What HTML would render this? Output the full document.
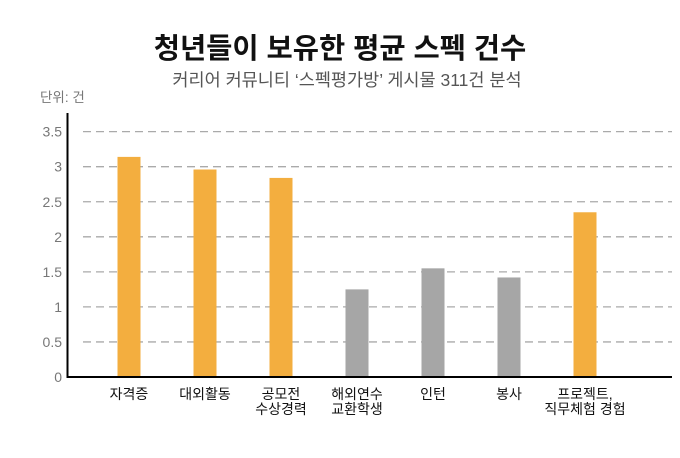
<!DOCTYPE html>
<html><head><meta charset="utf-8"><style>
body{margin:0;background:#fff;width:680px;height:453px;overflow:hidden;font-family:"Liberation Sans","Noto Sans CJK KR",sans-serif}
</style></head><body>
<svg id="chart" width="680" height="453" xmlns="http://www.w3.org/2000/svg" font-family="Liberation Sans, Noto Sans CJK KR, sans-serif">
<text x="340" y="58" text-anchor="middle" font-size="28.5" font-weight="bold" fill="#111">청년들이 보유한 평균 스펙 건수</text>
<text x="347" y="86" text-anchor="middle" font-size="17.5" fill="#555">커리어 커뮤니티 ‘스펙평가방’ 게시물 311건 분석</text>
<text x="40" y="102" font-size="13.5" fill="#777">단위: 건</text>
<g id="grid"></g><g id="bars"></g><g id="labels"></g>
<line x1="67.5" y1="113" x2="67.5" y2="378" stroke="#000" stroke-width="2"/>
<line x1="66.5" y1="377" x2="672" y2="377" stroke="#000" stroke-width="2"/>
</svg>
<script>
const categories=[["자격증"],["대외활동"],["공모전","수상경력"],["해외연수","교환학생"],["인턴"],["봉사"],["프로젝트,","직무체험 경험"]];
const values=[3.14,2.96,2.84,1.25,1.55,1.42,2.35];
const highlighted=[true,true,true,false,false,false,true];
const yTicks=[0,0.5,1,1.5,2,2.5,3,3.5];
const tickLabels=["0","0.5","1","1.5","2","2.5","3","3.5"];
const NS="http://www.w3.org/2000/svg";
const y=v=>377-v*70.1;
const x=i=>129+i*76;
function mk(t,a,p){const e=document.createElementNS(NS,t);for(const k in a)e.setAttribute(k,a[k]);p.appendChild(e);return e;}
const grid=document.getElementById('grid'),bars=document.getElementById('bars'),labels=document.getElementById('labels');
yTicks.forEach((v,i)=>{
  if(v>0){const l=mk('line',{x1:83,x2:672,y1:y(v),y2:y(v),stroke:'#aaa','stroke-width':1.3,'stroke-dasharray':'8 5'},grid);
  
  }
  const t=mk('text',{x:62,y:y(v)+5,'text-anchor':'end','font-size':14,fill:'#777'},grid);
  t.textContent=tickLabels[i];
  
  
});
values.forEach((v,i)=>{
  const r=mk('rect',{x:x(i)-11.5,y:y(v),width:23,height:377-y(v),fill:highlighted[i]?'#f3ae3f':'#a6a6a6'},bars);
  
  
  categories[i].forEach((s,j)=>{
    const t=mk('text',{x:x(i),y:399+j*15,'text-anchor':'middle','font-size':14,fill:'#111'},labels);
    t.textContent=s;
    
    
  });
});
</script>
</body></html>
